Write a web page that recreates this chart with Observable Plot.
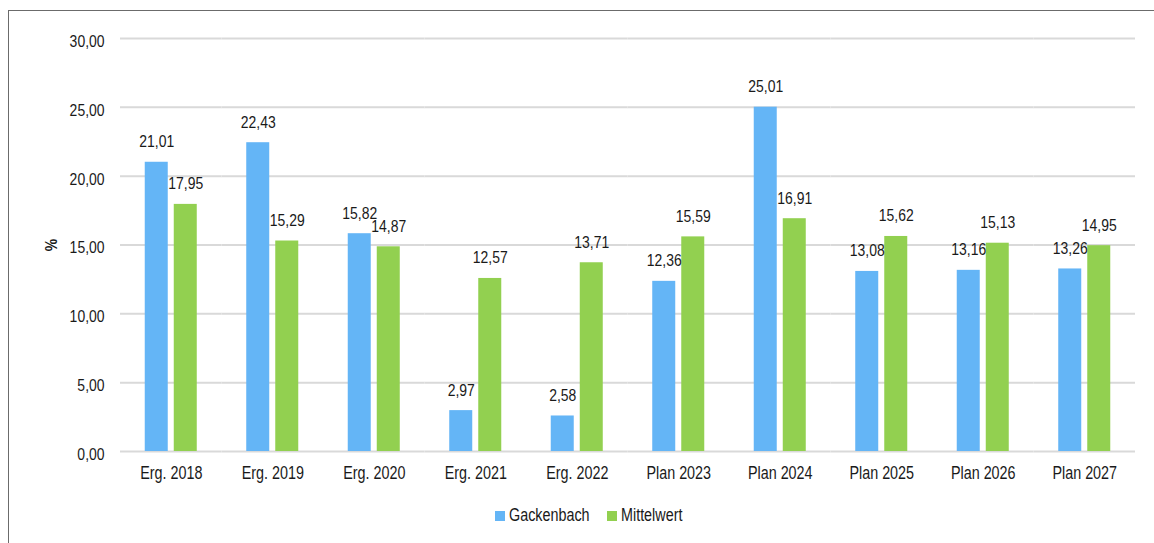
<!DOCTYPE html>
<html><head><meta charset="utf-8">
<script src="https://cdn.jsdelivr.net/npm/d3@7"></script>
<script src="https://cdn.jsdelivr.net/npm/@observablehq/plot@0.6"></script>
<style>
body{margin:0;background:#fff;}
#wrap{position:relative;width:1154px;height:543px;overflow:hidden;background:#fff}
#frame{position:absolute;left:8px;top:10px;right:-2px;bottom:-2px;border-left:1px solid #6b6b6b;border-top:1px solid #6b6b6b}
#chart{position:absolute;left:0;top:0}
#legend{position:absolute;top:505px;left:495px;display:flex;align-items:center;font-size:17.5px;color:#1a1a1a;white-space:nowrap}
#legend .item{display:flex;align-items:center;margin-right:17px}
#legend .sw{width:10px;height:10px;margin-right:4px;flex:none}
#legend span{display:inline-block}
</style>
</head><body>
<div id="wrap"><div id="frame"></div><div id="chart"></div><div id="legend"></div></div>
<script>
const categories = ["Erg. 2018","Erg. 2019","Erg. 2020","Erg. 2021","Erg. 2022","Plan 2023","Plan 2024","Plan 2025","Plan 2026","Plan 2027"];
const series = ["Gackenbach","Mittelwert"];
const gackenbach = [21.01,22.43,15.82,2.97,2.58,12.36,25.01,13.08,13.16,13.26];
const mittelwert = [17.95,15.29,14.87,12.57,13.71,15.59,16.91,15.62,15.13,14.95];
const yTicks = [0,5,10,15,20,25,30];
const colors = ["#64b5f6","#92d050"];

const data = categories.flatMap((c,i)=>[
  {cat:c, series:series[0], value:gackenbach[i]},
  {cat:c, series:series[1], value:mittelwert[i]}
]);
const fmt = d => d.toFixed(2).replace(".", ",");

function hasFont(name){
  const c = document.createElement("canvas").getContext("2d");
  const s = "Gackenbach Mittelwert 2018 30,00";
  c.font = "40px monospace"; const a = c.measureText(s).width;
  c.font = `40px '${name}', monospace`; const b = c.measureText(s).width;
  return Math.abs(a-b) > 0.5;
}
const narrow = hasFont("Liberation Sans Narrow");
const family = narrow ? "'Liberation Sans Narrow', 'Liberation Sans', Arial, sans-serif" : "'Liberation Sans', Arial, sans-serif";
const squeeze = narrow ? 1 : 0.82;
document.body.style.fontFamily = family;

const chart = Plot.plot({
  width:1154, height:490,
  marginTop:38, marginLeft:120, marginRight:19, marginBottom:39,
  style:{fontFamily:family, fontSize:"17px", color:"#1a1a1a", background:"transparent", overflow:"visible"},
  fx:{domain:categories, padding:0, round:false},
  x:{domain:series, axis:null, paddingInner:0.207, paddingOuter:0.853, round:false},
  y:{domain:[0,30]},
  color:{domain:series, range:colors},
  marks:[
    Plot.ruleY(yTicks,{stroke:"#d9d9d9", strokeWidth:2}),
    Plot.barY(data,{fx:"cat", x:"series", y:"value", fill:"series"}),
    Plot.text(data,{fx:"cat", x:"series", y:"value", text:d=>fmt(d.value), dy:-15, lineAnchor:"bottom", fill:"#1a1a1a", fontSize:17}),
    Plot.axisY({ticks:yTicks, tickSize:0, tickPadding:16, tickFormat:fmt, dy:3, fontSize:17, label:"%", labelAnchor:"center", labelOffset:76, labelArrow:"none"}),
    Plot.axisFx({anchor:"bottom", tickSize:0, tickPadding:15, fontSize:17.5, label:null})
  ]
});
document.getElementById("chart").appendChild(chart);

const lab = chart.querySelector('[aria-label="y-axis label"]');
if (lab) lab.setAttribute("font-weight","bold");

if (squeeze !== 1) {
  chart.querySelectorAll("text").forEach(t => {
    const w = t.getComputedTextLength();
    if (w > 0) { t.setAttribute("textLength", w*squeeze); t.setAttribute("lengthAdjust","spacingAndGlyphs"); }
  });
}

const legend = document.getElementById("legend");
series.forEach((s,i)=>{
  const it = document.createElement("div"); it.className="item";
  const sw = document.createElement("div"); sw.className="sw"; sw.style.background=colors[i];
  const box = document.createElement("span");
  const tx = document.createElement("span"); tx.textContent=s;
  box.appendChild(tx);
  it.appendChild(sw); it.appendChild(box); legend.appendChild(it);
  if (squeeze !== 1) {
    const w = tx.getBoundingClientRect().width;
    box.style.width = (w*squeeze)+"px";
    tx.style.transformOrigin = "left center";
    tx.style.transform = `scaleX(${squeeze})`;
  }
});
</script>
</body></html>
